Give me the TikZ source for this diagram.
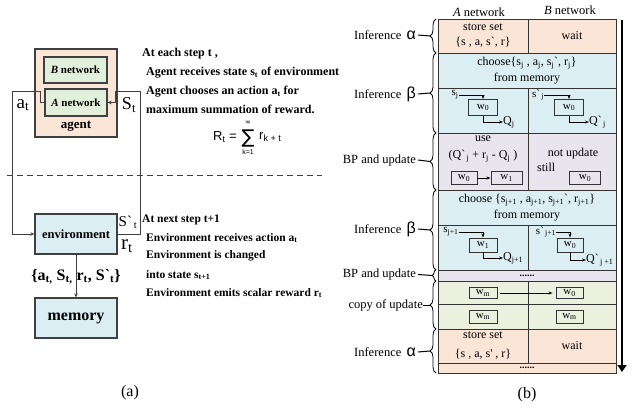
\documentclass[tikz,border=0pt]{standalone}
\usepackage{fontspec}
\setmainfont{Liberation Serif}[Ligatures=TeXOff]
\newfontfamily\sansf{Liberation Sans}
\newfontfamily\dejav{DejaVu Sans}
\usetikzlibrary{arrows.meta,decorations.pathreplacing}
\definecolor{peach}{HTML}{FBE5D6}
\definecolor{lblue}{HTML}{DAEEF3}
\definecolor{lav}{HTML}{E9E5EF}
\definecolor{lgreen}{HTML}{EBF1DE}
\definecolor{agreen}{HTML}{E2EFDA}
\definecolor{bord}{HTML}{404040}
\definecolor{cellb}{HTML}{333333}
\newcommand{\mysub}[1]{\textsubscript{#1}}
\newcommand{\setfs}[2]{\fontsize{#1}{#2}\selectfont}
\tikzset{
 lbox/.style={draw=bord, line width=1.3pt, inner sep=0pt},
 conn/.style={draw=bord, line width=1pt, -{Stealth[length=4pt,width=3.5pt]}},
 tb/.style={anchor=west, inner sep=0pt, font=\bfseries\setfs{12}{12}},
 tbl/.style={anchor=west, inner sep=0pt, font=\bfseries\setfs{11.5}{12}},
 cell/.style={draw=cellb, line width=0.8pt, inner sep=0pt, align=center, font=\setfs{12}{15}},
 txt/.style={inner sep=0pt, font=\setfs{12}{12}},
 stxt/.style={inner sep=0pt, font=\setfs{11}{12}},
 fsans/.style={inner sep=0pt, font=\sansf\setfs{13}{13}},
 ftiny/.style={inner sep=0pt, font=\sansf\setfs{7}{7}},
 wbox/.style={draw=cellb, line width=0.9pt, inner sep=0pt, minimum width=29pt, minimum height=15pt, font=\setfs{11}{12}},
 sarr/.style={draw=black, line width=0.7pt, -{Stealth[length=4pt,width=3pt]}},
 brc/.style={draw=black, line width=0.8pt, decorate, decoration={brace, amplitude=6pt}},
 blab/.style={anchor=east, inner sep=0pt, font=\setfs{12.5}{13}}
}
\begin{document}
\begin{tikzpicture}[x=1pt,y=-1pt]
\useasboundingbox (0,0) rectangle (633,412);
%% ---------------- (a) ----------------
\node[lbox, fill=peach, minimum width=82pt, minimum height=88pt] (agent) at (76,93) {};
\node[lbox, fill=agreen, minimum width=63pt, minimum height=26pt, font=\bfseries\setfs{11}{12}] (bnet) at (75.5,70) {\textit{B} network};
\node[lbox, fill=agreen, minimum width=62pt, minimum height=27pt, font=\bfseries\setfs{11}{12}] (anet) at (76,102.5) {\textit{A} network};
\node[inner sep=0pt, font=\bfseries\setfs{13}{14}] (agentlbl) at (76,126) {agent};
\node[lbox, fill=lblue, minimum width=82pt, minimum height=40pt, font=\bfseries\setfs{12.5}{13}] (env) at (76,234) {environment};
\node[lbox, fill=lblue, minimum width=82pt, minimum height=40pt, font=\bfseries\setfs{16}{16}] (mem) at (76,318) {memory};

\draw[conn] (anet.west) -- (40,102.5) -- (40,92) -- (12,92) -- (12,234) -- (env.west);
\draw[conn] (env.east) -- (140,234) -- (140,92) -- (115,92) -- (115,102.5) -- (anet.east);
\draw[conn] (env.south) -- (mem.north);

\node[inner sep=0pt, font=\setfs{19}{19}] (alab) at (23,105) {a\mysub{t}};
\node[inner sep=0pt, font=\setfs{18}{18}] (slab) at (129,105) {S\mysub{t}};
\node[inner sep=0pt, font=\setfs{15}{15}] (splab) at (128,222) {S`\mysub{\,t}};
\node[inner sep=0pt, font=\setfs{21}{21}] (rlab) at (127,246) {r\mysub{t}};
\node[inner sep=0pt, font=\bfseries\setfs{16}{16}] (setlab) at (76,277) {\{a\mysub{t,} S\mysub{t,} r\mysub{t}, S`\mysub{t}\}};

\node[tb] (t1) at (142,54) {At each step t ,};
\node[tb] (t2) at (146,73) {Agent receives state s\mysub{t} of environment};
\node[tb] (t3) at (146,92) {Agent chooses an action a\mysub{t} for};
\node[tb] (t4) at (146,109) {maximum summation of reward.};
% formula R_t = sum_{k=1}^inf r_{k+t}
\node[fsans, anchor=east] (fR) at (237,137) {R\mysub{t} =};
\node[inner sep=0pt, font=\dejav\setfs{19}{19}] (fsum) at (248,138) {∑};
\node[ftiny] (finf) at (248,123) {\dejav ∞};
\node[ftiny] (fk) at (248,152) {k=1};
\node[fsans, anchor=west] (fr) at (259,137) {r\mysub{k + t}};

\draw[dashed, dash pattern=on 6pt off 4pt, bord, line width=0.8pt] (7,175) -- (322,175);

\node[tbl] (u1) at (142,220) {At next step t+1};
\node[tbl] (u2) at (146,238) {Environment receives action a\mysub{t}};
\node[tbl] (u3) at (146,256) {Environment is changed};
\node[tbl] (u4) at (146,275) {into state s\mysub{t+1}};
\node[tbl] (u5) at (146,293) {Environment emits scalar reward r\mysub{t}};

\node[inner sep=0pt, font=\setfs{16}{16}] (capa) at (130,393) {(a)};

%% ---------------- (b) ----------------
\node[inner sep=0pt, font=\setfs{12.5}{13}] (ha) at (479,12) {\textit{A} network};
\node[inner sep=0pt, font=\setfs{12.5}{13}] (hb) at (570,10) {\textit{B} network};

% row 1
\node[cell, fill=peach, minimum width=90pt, minimum height=34pt] (c1l) at (483,36) {store set\\\{s , a, s`, r\}};
\node[cell, fill=peach, minimum width=88pt, minimum height=34pt] (c1r) at (572,36) {wait};
% row 2
\node[cell, fill=lblue, minimum width=178pt, minimum height=35pt, font=\setfs{12}{16}] (c2) at (527,70.5) {choose\{s\mysub{j} , a\mysub{j}, s\mysub{j}`, r\mysub{j}\}\\from memory};
% row 3
\node[cell, fill=lblue, minimum width=90pt, minimum height=45pt] (c3l) at (483,110.5) {};
\node[cell, fill=lblue, minimum width=88pt, minimum height=45pt] (c3r) at (572,110.5) {};
\node[stxt] (sj) at (455,95) {s\mysub{j}};
\node[wbox, minimum height=16pt] (w3l) at (483,107.5) {w\mysub{0}};
\node[txt, anchor=west] (qj) at (503,122) {Q\mysub{j}};
\draw[sarr] (sj.east) -| (w3l.north);
\draw[sarr] (w3l.south) |- (qj.west);
\node[stxt] (sjp) at (538,95) {s`\mysub{\,j}};
\node[wbox, minimum height=16pt] (w3r) at (569,107.5) {w\mysub{0}};
\node[txt, anchor=west] (qjp) at (589,122) {Q`\mysub{\,j}};
\draw[sarr] (sjp.east) -| (w3r.north);
\draw[sarr] (w3r.south) |- (qjp.west);
% row 4
\node[cell, fill=lav, minimum width=90pt, minimum height=57pt] (c4l) at (483,161.5) {};
\node[cell, fill=lav, minimum width=88pt, minimum height=57pt] (c4r) at (572,161.5) {};
\node[txt] (use) at (483,139) {use};
\node[txt] (qexp) at (483,156) {(Q`\mysub{\,j} + r\mysub{j} - Q\mysub{j} )};
\node[wbox, minimum width=26pt, minimum height=13pt] (w4a) at (464,178) {w\mysub{0}};
\node[wbox, minimum width=31pt, minimum height=13pt] (w4b) at (506.5,178) {w\mysub{1}};
\draw[sarr] (w4a.east) -- (w4b.west);
\node[txt] (nu) at (573,154) {not update};
\node[txt, anchor=west] (still) at (537,167) {still};
\node[wbox, minimum width=31pt, minimum height=13pt] (w4c) at (585,178) {w\mysub{0}};
% row 5
\node[cell, fill=lblue, minimum width=178pt, minimum height=35pt, font=\setfs{12}{16}] (c5) at (527,207.5) {choose \{s\mysub{j+1} , a\mysub{j+1}, s\mysub{j+1}`, r\mysub{j+1}\}\\from memory};
% row 6
\node[cell, fill=lblue, minimum width=90pt, minimum height=45pt] (c6l) at (483,247.5) {};
\node[cell, fill=lblue, minimum width=88pt, minimum height=45pt] (c6r) at (572,247.5) {};
\node[stxt] (sj1) at (451,232) {s\mysub{j+1}};
\node[wbox, minimum width=28pt, minimum height=14pt] (w6a) at (483,245) {w\mysub{1}};
\node[txt, anchor=west] (qj1) at (503,258) {Q\mysub{j+1}};
\draw[sarr] (sj1.east) -| (w6a.north);
\draw[sarr] (w6a.south) |- (qj1.west);
\node[stxt] (sj1p) at (546,232) {s`\mysub{\,j+1}};
\node[wbox, minimum width=26pt, minimum height=14pt] (w6b) at (570,245) {w\mysub{0}};
\node[txt, anchor=west] (qj1p) at (586,260) {Q`\mysub{\,j +1}};
\draw[sarr] (sj1p.east) -| (w6b.north);
\draw[sarr] (w6b.south) |- (qj1p.west);
% row 7
\node[cell, fill=lav, minimum width=178pt, minimum height=11pt, font=\bfseries\setfs{10}{10}] (c7) at (527,275.5) {......};
% row 8
\node[cell, fill=lgreen, minimum width=90pt, minimum height=23pt] (c8l) at (483,292.5) {};
\node[cell, fill=lgreen, minimum width=88pt, minimum height=23pt] (c8r) at (572,292.5) {};
\node[wbox, minimum width=28pt, minimum height=11pt] (wm1) at (483,293) {w\mysub{m}};
\node[wbox, minimum width=27pt, minimum height=11pt] (w8r) at (569.5,293) {w\mysub{0}};
\draw[sarr] ([xshift=3pt]wm1.east) -- ([xshift=-3pt]w8r.west);
% row 9
\node[cell, fill=lgreen, minimum width=90pt, minimum height=25pt] (c9l) at (483,316.5) {};
\node[cell, fill=lgreen, minimum width=88pt, minimum height=25pt] (c9r) at (572,316.5) {};
\node[wbox, minimum width=28pt, minimum height=13pt] (wm2) at (483,316.5) {w\mysub{m}};
\node[wbox, minimum width=27pt, minimum height=13pt] (wm3) at (569.5,316.5) {w\mysub{m}};
% row 10
\node[cell, fill=peach, minimum width=90pt, minimum height=34pt, font=\setfs{12}{19}] (c10l) at (483,346) {store set\\\{s , a, s' , r\}};
\node[cell, fill=peach, minimum width=88pt, minimum height=34pt] (c10r) at (572,346) {wait};
% row 11
\node[cell, fill=peach, minimum width=178pt, minimum height=10pt, font=\bfseries\setfs{10}{10}] (c11) at (527,368) {......};

% braces
\draw[brc] (436,53) -- (436,19);
\draw[brc] (436,133) -- (436,53);
\draw[brc] (436,190) -- (436,133);
\draw[brc] (436,270) -- (436,190);
\draw[brc, decoration={brace, amplitude=4pt}] (436,281) -- (436,270);
\draw[brc] (436,329) -- (436,281);
\draw[brc] (436,373) -- (436,329);
\coordinate (tp1) at (430,36);
\coordinate (tp2) at (430,93);
\coordinate (tp3) at (430,161.5);
\coordinate (tp4) at (430,230);
\coordinate (tp5) at (432,275.5);
\coordinate (tp6) at (430,305);
\coordinate (tp7) at (430,351);

\node[blab] (l1) at (416,35) {Inference \,{\sansf\setfs{16}{16}α}};
\node[blab] (l2) at (416,94) {Inference \,{\sansf\setfs{16}{16}β}};
\node[blab] (l3) at (416,160) {BP and update};
\node[blab] (l4) at (416,229) {Inference \,{\sansf\setfs{16}{16}β}};
\node[blab] (l5) at (416,274.5) {BP and update};
\node[blab] (l6) at (423,305) {copy of update};
\node[blab] (l7) at (416,352) {Inference \,{\sansf\setfs{16}{16}α}};
\foreach \i in {1,...,5,7} {\draw[line width=1pt] ([xshift=2pt]l\i.east) -- (tp\i);}
\draw[line width=1pt] (l6.east) -- (tp6);

% time arrow
\coordinate (ts) at (622,20);
\coordinate (te) at (622,372);
\draw[line width=2.8pt, -{Triangle[length=7pt,width=9pt]}] (ts) -- (te);

\node[inner sep=0pt, font=\setfs{16}{16}] (capb) at (527,395) {(b)};
\end{tikzpicture}
\end{document}
